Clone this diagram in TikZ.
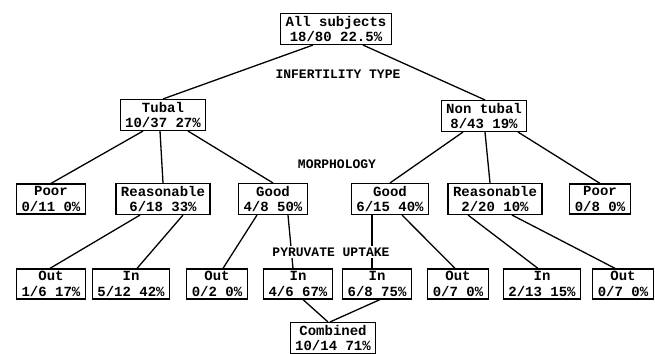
\documentclass[tikz,border=0pt]{standalone}
\usepackage{fontspec}
\setmonofont{Liberation Mono}
\tikzset{
  leaf/.style={draw, line width=1.3pt, align=center, inner xsep=5pt, inner ysep=2.5pt,
    font=\ttfamily\bfseries\fontsize{14}{15.5}\selectfont},
  split/.style={fill=white, inner sep=1.5pt, font=\ttfamily\bfseries\fontsize{13}{14}\selectfont},
  branch/.style={line width=1.3pt}
}
\begin{document}
\begin{tikzpicture}[x=1pt, y=-1pt]
                \useasboundingbox (0, 0) rectangle (655, 353);

                %%root and infertility type
                \node[leaf] (root) at (336, 29){All subjects\\18/80 22.5\%};
                \node[leaf] (tubal) at (163, 115){Tubal\\10/37 27\%};
                \node[leaf] (nontubal) at (484, 116){Non tubal\\8/43 19\%};
                    \draw[branch]([xshift=-23]root.south) to (tubal.north);
                    \draw[branch]([xshift=27]root.south) to ([xshift=1]nontubal.north);

                %%morphology
                \node[leaf] (poorA) at (51, 199){Poor\\0/11 0\%};
                \node[leaf] (reasA) at (163, 199){Reasonable\\6/18 33\%};
                \node[leaf] (goodA) at (273, 199){Good\\4/8 50\%};
                \node[leaf] (goodB) at (390, 199){Good\\6/15 40\%};
                \node[leaf] (reasB) at (495, 199){Reasonable\\2/20 10\%};
                \node[leaf] (poorB) at (600, 199){Poor\\0/8 0\%};
                    \draw[branch]([xshift=-20]tubal.south) to (poorA.north);
                    \draw[branch]([xshift=-3]tubal.south) to (reasA.north);
                    \draw[branch]([xshift=25]tubal.south) to (goodA.north);
                    \draw[branch]([xshift=-21]nontubal.south) to (goodB.north);
                    \draw[branch]([xshift=1]nontubal.south) to ([xshift=-5]reasB.north);
                    \draw[branch]([xshift=34]nontubal.south) to (poorB.north);

                %%pyruvate uptake
                \node[leaf] (outA) at (51, 284){Out\\1/6 17\%};
                \node[leaf] (inA) at (131, 284){In\\5/12 42\%};
                \node[leaf] (outB) at (217, 284){Out\\0/2 0\%};
                \node[leaf] (inB) at (298, 284){In\\4/6 67\%};
                \node[leaf] (inC) at (377, 284){In\\6/8 75\%};
                \node[leaf] (outC) at (458, 284){Out\\0/7 0\%};
                \node[leaf] (inD) at (542, 284){In\\2/13 15\%};
                \node[leaf] (outD) at (623, 284){Out\\0/7 0\%};
                    \draw[branch]([xshift=-23]reasA.south) to ([xshift=-1]outA.north);
                    \draw[branch]([xshift=20]reasA.south) to ([xshift=6]inA.north);
                    \draw[branch]([xshift=-16]goodA.south) to ([xshift=6]outB.north);
                    \draw[branch]([xshift=15]goodA.south) to ([xshift=-5]inB.north);
                    \draw[branch]([xshift=-18]goodB.south) to ([xshift=-5]inC.north);
                    \draw[branch]([xshift=12]goodB.south) to ([xshift=-3]outC.north);
                    \draw[branch]([xshift=-27]reasB.south) to ([xshift=-4]inD.north);
                    \draw[branch]([xshift=17]reasB.south) to ([xshift=-8]outD.north);

                %%combined
                \node[leaf] (comb) at (333, 338){Combined\\10/14 71\%};
                    \draw[branch]([xshift=5]inB.south) to ([xshift=-5]comb.north);
                    \draw[branch]([xshift=3]inC.south) to ([xshift=-3]comb.north);

                %%split labels
                \node[split] (lblType) at (338, 74){INFERTILITY TYPE};
                \node[split] (lblMorph) at (337, 164){MORPHOLOGY};
                \node[split] (lblUptake) at (331, 252){PYRUVATE UPTAKE};
\end{tikzpicture}
\end{document}
